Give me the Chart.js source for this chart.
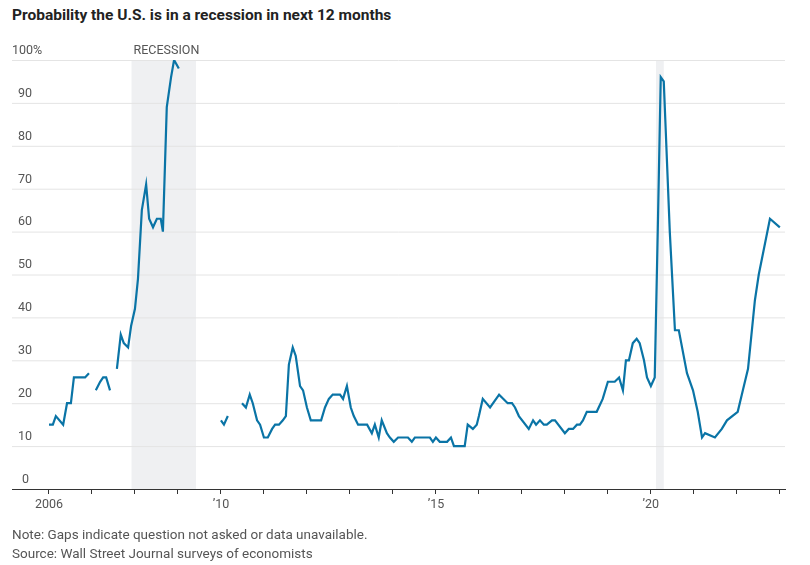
<!DOCTYPE html>
<html><head><meta charset="utf-8">
<script src="https://cdn.jsdelivr.net/npm/chart.js@4/dist/chart.umd.min.js"></script>
<style>
body{margin:0;background:#fff;font-family:Roboto,"Noto Sans",sans-serif;}
#wrap{position:relative;width:810px;height:565px;}
#title{position:absolute;left:12px;top:6px;font-size:15.5px;font-weight:bold;color:#222;}
#note{position:absolute;left:12px;top:525px;font-size:13.5px;color:#555;line-height:19px;}
canvas{position:absolute;left:0;top:0;}
</style></head><body>
<div id="wrap">
<div id="title">Probability the U.S. is in a recession in next 12 months</div>
<canvas id="c" width="810" height="565"></canvas>
<div id="note">Note: Gaps indicate question not asked or data unavailable.<br>Source: Wall Street Journal surveys of economists</div>
</div>
<script>
const dates = [2006.0,2006.09,2006.16,2006.33,2006.42,2006.51,2006.58,2006.84,2006.93,2007.0,
2007.09,2007.19,2007.26,2007.33,2007.42,2007.5,
2007.58,2007.67,2007.74,2007.84,2007.91,2008.0,2008.07,2008.16,2008.26,2008.33,2008.42,2008.51,2008.6,2008.65,2008.74,2008.84,2008.91,2009.02,2009.5,
2010.0,2010.07,2010.16,2010.3,
2010.49,2010.58,2010.67,2010.74,2010.84,2010.91,2011.0,2011.09,2011.19,2011.26,2011.35,2011.44,2011.51,2011.58,2011.67,2011.74,2011.84,2011.91,2012.0,2012.09,2012.33,2012.42,2012.51,2012.6,2012.77,2012.84,2012.93,2013.02,2013.09,2013.19,2013.4,2013.51,2013.58,2013.67,2013.74,2013.86,2013.93,2014.02,2014.12,2014.35,2014.44,2014.51,2014.86,2014.93,2015.0,2015.09,2015.26,2015.35,2015.42,2015.67,2015.74,2015.86,2015.95,2016.0,2016.09,2016.26,2016.47,2016.67,2016.77,2016.84,2016.93,2017.16,2017.26,2017.33,2017.42,2017.51,2017.58,2017.7,2017.77,2018.0,2018.09,2018.19,2018.28,2018.35,2018.42,2018.51,2018.74,2018.88,2019.0,2019.16,2019.26,2019.35,2019.42,2019.49,2019.58,2019.67,2019.74,2019.84,2019.91,2020.0,2020.09,2020.16,2020.23,2020.3,2020.44,2020.56,2020.65,2020.84,2020.98,2021.09,2021.19,2021.26,2021.49,2021.65,2021.77,2022.02,2022.14,2022.26,2022.42,2022.51,2022.77,2023.0];
const probability = [15,15,17,15,20,20,26,26,27,null,
23,25,26,26,23,null,
28,36,34,33,38,42,49,65,71,63,61,63,63,60,89,96,100,98,null,
16,15,17,null,
20,19,22,20,16,15,12,12,14,15,15,16,17,29,33,31,24,23,19,16,16,19,21,22,22,21,24,19,17,15,15,13,15,12,16,13,12,11,12,12,11,12,12,11,12,11,11,12,10,10,15,14,15,17,21,19,22,20,20,19,17,14,16,15,16,15,15,16,16,13,14,14,15,15,16,18,18,21,25,25,26,23,30,30,34,35,34,30,26,24,26,60,96,95,60,37,37,27,23,18,12,13,12,14,16,18,23,28,44,50,63,61];
const recessions = [[2007.92,2009.42],[2020.12,2020.3]];
const yTicks = [0,10,20,30,40,50,60,70,80,90,100];
const xLabels = {2006:'2006',2010:'’10',2015:'’15',2020:'’20'};

const pts = dates.map((d,i)=>({x:d,y:probability[i]}));
const bg = {
  id:'bg',
  beforeDatasetsDraw(chart){
    const {ctx, chartArea:a, scales:{x,y}} = chart;
    ctx.save();
    ctx.fillStyle='#eff0f2';
    recessions.forEach(([s,e])=>{
      const x1=x.getPixelForValue(s), x2=x.getPixelForValue(e);
      ctx.fillRect(x1,a.top,x2-x1,a.bottom-a.top);
    });
    ctx.font='12.5px Roboto, sans-serif';
    ctx.fillStyle='#555';
    ctx.textBaseline='bottom';
    ctx.fillText('RECESSION', x.getPixelForValue(recessions[0][0])+2, a.top-3);
    yTicks.forEach(v=>{
      const py=y.getPixelForValue(v);
      if(v>0){
        ctx.strokeStyle='#e4e4e4';ctx.lineWidth=1;
        ctx.beginPath();ctx.moveTo(a.left,py+0.5);ctx.lineTo(a.right,py+0.5);ctx.stroke();
      }
      ctx.fillStyle='#555';
      const t = v===100?'100%':String(v);
      ctx.fillText(t, v===100?a.left:(v===0?a.left+10:a.left+6), py-3);
    });
    ctx.restore();
  }
};
new Chart(document.getElementById('c'),{
  type:'line',
  data:{datasets:[{data:pts,borderColor:'#0a74a6',borderWidth:2.2,pointRadius:0,spanGaps:false,tension:0,fill:false}]},
  options:{
    responsive:false,animation:false,
    layout:{padding:{left:12,right:25,top:60,bottom:50}},
    plugins:{legend:{display:false},tooltip:{enabled:false}},
    scales:{
      x:{type:'linear',min:2005.14,max:2023.12,
        afterBuildTicks(s){s.ticks=[];for(let yv=2006;yv<=2023;yv++)s.ticks.push({value:yv});},
        grid:{drawOnChartArea:false,drawTicks:true,tickLength:5,color:'#333'},
        border:{color:'#333',width:1},
        ticks:{autoSkip:false,maxRotation:0,padding:3,color:'#555',font:{family:'Roboto',size:12.5},callback:v=>xLabels[v]||''}},
      y:{display:false,min:0,max:100}
    }
  },
  plugins:[bg]
});
</script></body></html>
